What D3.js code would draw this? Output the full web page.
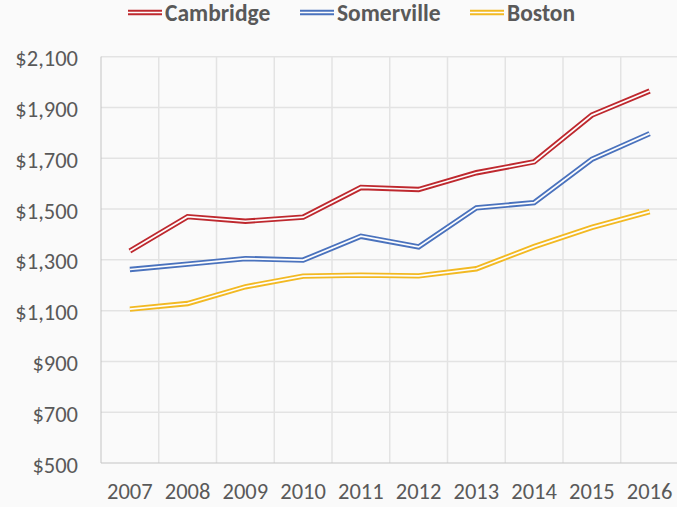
<!DOCTYPE html>
<html>
<head>
<meta charset="utf-8">
<script src="https://cdn.jsdelivr.net/npm/d3@7"></script>
<style>
    html, body { margin: 0; padding: 0; background: #fafafa; }
    svg { display: block; font-family: Carlito, Calibri, Lato, sans-serif; }
</style>
</head>
<body>
<div id="chart"></div>
<script>
// Data
const years = ["2007", "2008", "2009", "2010", "2011", "2012", "2013", "2014", "2015", "2016"];
const cambridge = [1335, 1470, 1452, 1468, 1585, 1577, 1643, 1686, 1870, 1965];
const somerville = [1262, 1283, 1305, 1299, 1393, 1351, 1505, 1525, 1696, 1797];
const boston = [1106, 1128, 1194, 1236, 1240, 1237, 1265, 1352, 1428, 1490];
const seriesNames = ["Cambridge", "Somerville", "Boston"];
const yTicks = [500, 700, 900, 1100, 1300, 1500, 1700, 1900, 2100];

// Declare constants
const canvas = { w: 677, h: 507 };
const plot = { left: 101, right: 678.5, top: 56.7, bottom: 463 };
const colors = {
    Cambridge: "#be282e",
    Somerville: "#4a72bd",
    Boston: "#f2b922"
};
const textColor = "#595959";

const series = [
    { name: "Cambridge", values: cambridge },
    { name: "Somerville", values: somerville },
    { name: "Boston", values: boston }
];

// Scales
const x = d3.scaleBand()
    .domain(years)
    .range([plot.left, plot.right])
    .padding(0);
const y = d3.scaleLinear()
    .domain([500, 2100])
    .range([plot.bottom, plot.top]);

const svg = d3.select("#chart")
    .append("svg")
    .attr("width", canvas.w)
    .attr("height", canvas.h);

svg.append("rect")
    .attr("width", canvas.w)
    .attr("height", canvas.h)
    .attr("fill", "#fafafa");

// Grid
svg.append("g")
    .selectAll("line")
    .data(yTicks.slice(1))
    .join("line")
    .attr("x1", plot.left)
    .attr("x2", plot.right)
    .attr("y1", d => y(d))
    .attr("y2", d => y(d))
    .attr("stroke", "#e3e3e3")
    .attr("stroke-width", 1.5);

svg.append("g")
    .selectAll("line")
    .data(years.slice(1))
    .join("line")
    .attr("x1", d => x(d))
    .attr("x2", d => x(d))
    .attr("y1", plot.top)
    .attr("y2", plot.bottom)
    .attr("stroke", "#e3e3e3")
    .attr("stroke-width", 1.5);

// Axis lines
svg.append("line")
    .attr("x1", plot.left).attr("x2", plot.left)
    .attr("y1", plot.top).attr("y2", plot.bottom)
    .attr("stroke", "#c4c4c4");
svg.append("line")
    .attr("x1", plot.left).attr("x2", plot.right)
    .attr("y1", plot.bottom).attr("y2", plot.bottom)
    .attr("stroke", "#c4c4c4");

// Axes
const fmt = d => "$" + d3.format(",")(d);
const yAxis = svg.append("g")
    .attr("transform", `translate(${plot.left},0)`)
    .call(d3.axisLeft(y).tickValues(yTicks).tickFormat(fmt).tickSize(0).tickPadding(23));
const xAxis = svg.append("g")
    .attr("transform", `translate(0,${plot.bottom})`)
    .call(d3.axisBottom(x).tickSize(0).tickPadding(22));
[yAxis, xAxis].forEach(ax => {
    ax.select(".domain").remove();
    ax.selectAll("text")
        .attr("fill", textColor)
        .style("font-size", "22.5px")
        .style("font-family", "Carlito, Calibri, Lato, sans-serif");
});
yAxis.selectAll("text").attr("dy", "0.4em");
xAxis.selectAll("text").attr("dy", "0.62em");

// Double lines
const line = d3.line()
    .x((d, i) => x(years[i]) + x.bandwidth() / 2)
    .y(d => y(d));

function doubleLine(sel, color) {
    sel.append("path")
        .attr("fill", "none")
        .attr("stroke", color)
        .attr("stroke-width", 5.4);
    sel.append("path")
        .attr("fill", "none")
        .attr("stroke", "#fdfdfd")
        .attr("stroke-width", 1.7);
}

const seriesG = svg.append("g")
    .selectAll("g")
    .data(series)
    .join("g");
seriesG.each(function (d) {
    doubleLine(d3.select(this), colors[d.name]);
});
seriesG.selectAll("path").attr("d", d => line(d.values));

// Legend
const legendX = [128, 300, 470];
const legend = svg.append("g")
    .selectAll("g")
    .data(seriesNames)
    .join("g")
    .attr("transform", (d, i) => `translate(${legendX[i]},12.5)`);
legend.each(function (d) {
    doubleLine(d3.select(this), colors[d]);
});
legend.selectAll("path").attr("d", "M0,0H34");
legend.append("text")
    .attr("x", 37)
    .attr("dy", "0.36em")
    .attr("fill", textColor)
    .style("font-size", "23.5px")
    .style("font-weight", "bold")
    .text(d => d);
</script>
</body>
</html>
